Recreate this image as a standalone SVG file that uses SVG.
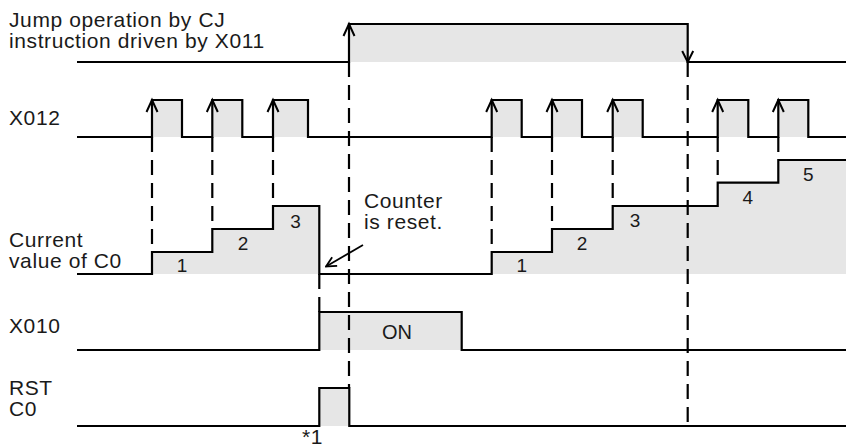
<svg xmlns="http://www.w3.org/2000/svg" xmlns:xlink="http://www.w3.org/1999/xlink" width="846" height="448" viewBox="0 0 846 448">
<style>
.sig{fill:none;stroke:#000;stroke-width:2.2;stroke-linejoin:miter}
.fill{fill:#e6e6e6;stroke:none}
.dash{fill:none;stroke:#000;stroke-width:2.2;stroke-dasharray:15 8}
.chev{fill:none;stroke:#000;stroke-width:2}
.t{font-family:"Liberation Sans",Arial,sans-serif;font-size:21px;letter-spacing:0.6px;fill:#1a1a1a}
.n{font-family:"Liberation Sans",Arial,sans-serif;font-size:19px;fill:#1a1a1a;text-anchor:middle}
</style>
<defs>
<path id="up" d="M-5.5,12 L0,0 L5.5,12"/>
<path id="down" d="M-5.5,-11 L0,0 L5.5,-11"/>
<marker id="ah" viewBox="0 0 12 12" refX="11" refY="6" markerWidth="12" markerHeight="12" markerUnits="userSpaceOnUse" orient="auto">
<path d="M1,1 L11,6 L1,11" fill="none" stroke="#000" stroke-width="1.8"/>
</marker>
</defs>

<g id="jump">
<rect class="fill" x="349" y="24" width="338.7" height="38"/>
<polyline class="sig" points="77,62 349,62 349,24 687.7,24 687.7,62 846,62"/>
<use href="#up" class="chev" x="349" y="24"/>
<use href="#down" class="chev" x="687.7" y="62"/>
<text class="t" x="9" y="27">Jump operation by CJ</text>
<text class="t" x="9" y="48">instruction driven by X011</text>
</g>

<g id="x012">
<rect class="fill" x="152" y="100" width="30" height="37"/>
<rect class="fill" x="212.3" y="100" width="30" height="37"/>
<rect class="fill" x="273" y="100" width="35" height="37"/>
<rect class="fill" x="491.7" y="100" width="30" height="37"/>
<rect class="fill" x="552" y="100" width="30" height="37"/>
<rect class="fill" x="612.7" y="100" width="30" height="37"/>
<rect class="fill" x="717.7" y="100" width="30.6" height="37"/>
<rect class="fill" x="778.3" y="100" width="30" height="37"/>
<polyline class="sig" points="77,137 152,137 152,100 182,100 182,137 212.3,137 212.3,100 242.3,100 242.3,137 273,137 273,100 308,100 308,137 491.7,137 491.7,100 521.7,100 521.7,137 552,137 552,100 582,100 582,137 612.7,137 612.7,100 642.7,100 642.7,137 717.7,137 717.7,100 748.3,100 748.3,137 778.3,137 778.3,100 808.3,100 808.3,137 846,137"/>
<use href="#up" class="chev" x="152" y="100"/>
<use href="#up" class="chev" x="212.3" y="100"/>
<use href="#up" class="chev" x="273" y="100"/>
<use href="#up" class="chev" x="491.7" y="100"/>
<use href="#up" class="chev" x="552" y="100"/>
<use href="#up" class="chev" x="612.7" y="100"/>
<use href="#up" class="chev" x="717.7" y="100"/>
<use href="#up" class="chev" x="778.3" y="100"/>
<text class="t" x="9" y="125">X012</text>
</g>

<g id="c0">
<polygon class="fill" points="152,274 152,252 212.3,252 212.3,229 273,229 273,206 319.3,206 319.3,274"/>
<polygon class="fill" points="491.7,274 491.7,252 552,252 552,229 612.7,229 612.7,206 717.7,206 717.7,182.7 778.3,182.7 778.3,160 846,160 846,274"/>
<polyline class="sig" points="77,274 152,274 152,252 212.3,252 212.3,229 273,229 273,206 319.3,206 319.3,274 491.7,274 491.7,252 552,252 552,229 612.7,229 612.7,206 717.7,206 717.7,182.7 778.3,182.7 778.3,160 846,160"/>
<text class="n" x="182" y="272">1</text>
<text class="n" x="243" y="250">2</text>
<text class="n" x="295.5" y="228">3</text>
<text class="n" x="521.7" y="272">1</text>
<text class="n" x="582" y="249.5">2</text>
<text class="n" x="635" y="227">3</text>
<text class="n" x="747.7" y="203.5">4</text>
<text class="n" x="808.3" y="181">5</text>
<text class="t" x="9" y="247">Current</text>
<text class="t" x="9" y="268">value of C0</text>
</g>

<g id="note">
<text class="t" x="364" y="208">Counter</text>
<text class="t" x="364" y="229">is reset.</text>
</g>

<g id="x010">
<rect class="fill" x="319.3" y="312" width="142.4" height="38"/>
<polyline class="sig" points="77,350 319.3,350 319.3,312 461.7,312 461.7,350 846,350"/>
<text class="t" x="9" y="333">X010</text>
<text class="t" x="382" y="339" style="font-size:20px;letter-spacing:0">ON</text>
</g>

<g id="rst">
<rect class="fill" x="319.3" y="388" width="30" height="38"/>
<polyline class="sig" points="77,426 319.3,426 319.3,388 349.3,388 349.3,426 846,426"/>
<text class="t" x="9" y="395">RST</text>
<text class="t" x="9" y="416">C0</text>
<text class="t" x="302" y="444">*1</text>
</g>

<g id="connectors">
<line class="dash" x1="152" y1="137" x2="152" y2="252"/>
<line class="dash" x1="212.3" y1="137" x2="212.3" y2="229"/>
<line class="dash" x1="273" y1="137" x2="273" y2="206"/>
<line class="dash" x1="491.7" y1="137" x2="491.7" y2="252"/>
<line class="dash" x1="552" y1="137" x2="552" y2="229"/>
<line class="dash" x1="612.7" y1="137" x2="612.7" y2="206"/>
<line class="dash" x1="717.7" y1="137" x2="717.7" y2="182.7"/>
<line class="dash" x1="778.3" y1="137" x2="778.3" y2="160"/>
<line class="dash" x1="349" y1="62" x2="349" y2="388"/>
<line class="dash" x1="687.7" y1="62" x2="687.7" y2="426"/>
<line class="dash" x1="319.3" y1="274" x2="319.3" y2="312"/>
<line fill="none" stroke="#000" stroke-width="1.8" x1="363" y1="245" x2="326" y2="266.5" marker-end="url(#ah)"/>
</g>
</svg>
